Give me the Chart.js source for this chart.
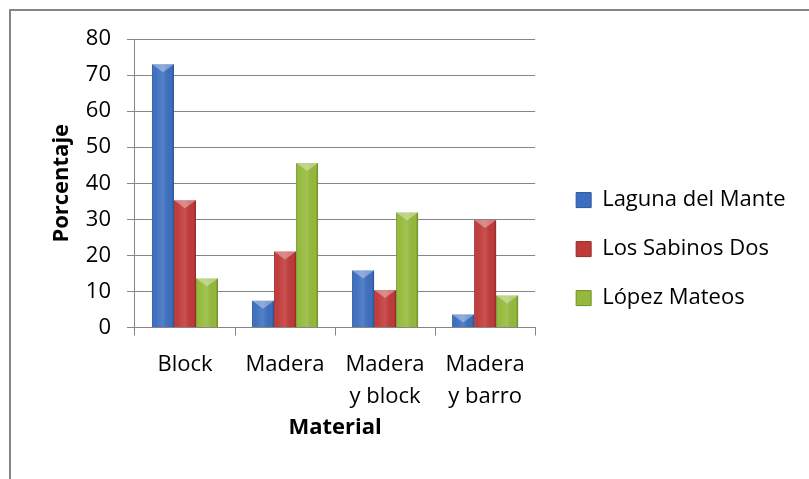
<!DOCTYPE html>
<html><head><meta charset="utf-8">
<script src="https://cdn.jsdelivr.net/npm/chart.js@4"></script>
<style>html,body{margin:0;padding:0;background:#fff}#wrap{width:809px;height:479px;position:relative}</style>
</head><body><div id="wrap"><canvas id="c" width="809" height="479"></canvas></div>
<script>
const categories = ['Block', 'Madera', ['Madera', 'y block'], ['Madera', 'y barro']];
const seriesNames = ['Laguna del Mante', 'Los Sabinos Dos', 'López Mateos'];
const lagunaDelMante = [73, 7.4, 15.8, 3.6];
const losSabinosDos = [35.3, 21.1, 10.4, 29.8];
const lopezMateos = [13.6, 45.6, 31.9, 8.9];
const yTicks = [0, 10, 20, 30, 40, 50, 60, 70, 80];
const seriesColors = ['#3D6FC0', '#C13A3A', '#95BA3B'];
const seriesEdges = ['#2B559B', '#962A2A', '#6F8F28'];
const yTitle = 'Porcentaje';
const xTitle = 'Material';

const FONT = "'Open Sans', sans-serif";

const decor = {
  id: 'decor',
  afterLayout(chart) {
    const lg = chart.legend;
    if (lg) { lg.left += 14; lg.right += 14; lg.top += 9; lg.bottom += 9; }
  },
  beforeDraw(chart) {
    const ctx = chart.ctx;
    ctx.save();
    ctx.strokeStyle = '#868686';
    ctx.lineWidth = 2;
    ctx.beginPath();
    ctx.moveTo(10, 479); ctx.lineTo(10, 10); ctx.lineTo(809, 10);
    ctx.stroke();
    ctx.restore();
  },
  afterDatasetsDraw(chart) {
    const ctx = chart.ctx;
    ctx.save();
    chart.data.datasets.forEach((ds, i) => {
      const meta = chart.getDatasetMeta(i);
      meta.data.forEach(bar => {
        const w = bar.width, l = bar.x - w / 2, r = bar.x + w / 2, t = bar.y, b = bar.base;
        const g = ctx.createLinearGradient(l, 0, r, 0);
        g.addColorStop(0, 'rgba(0,0,0,0.22)');
        g.addColorStop(0.12, 'rgba(255,255,255,0.0)');
        g.addColorStop(0.5, 'rgba(255,255,255,0.12)');
        g.addColorStop(0.88, 'rgba(0,0,0,0.0)');
        g.addColorStop(1, 'rgba(0,0,0,0.26)');
        ctx.fillStyle = g;
        ctx.fillRect(l, t, w, b - t);
        const th = Math.min(8, (b - t));
        ctx.fillStyle = 'rgba(255,255,255,0.35)';
        ctx.beginPath();
        ctx.moveTo(l, t); ctx.lineTo(r, t); ctx.lineTo(bar.x, t + th); ctx.closePath();
        ctx.fill();
      });
    });
    ctx.restore();
  }
};

new Chart(document.getElementById('c'), {
  type: 'bar',
  data: {
    labels: categories,
    datasets: [
      { label: seriesNames[0], data: lagunaDelMante, backgroundColor: seriesColors[0], borderColor: seriesEdges[0], borderWidth: 0 },
      { label: seriesNames[1], data: losSabinosDos, backgroundColor: seriesColors[1], borderColor: seriesEdges[1], borderWidth: 0 },
      { label: seriesNames[2], data: lopezMateos, backgroundColor: seriesColors[2], borderColor: seriesEdges[2], borderWidth: 0 }
    ]
  },
  options: {
    responsive: false,
    animation: false,
    devicePixelRatio: 1,
    categoryPercentage: 0.66,
    barPercentage: 1.0,
    layout: { padding: { left: 49, top: 39, right: 27.5, bottom: 37.8 } },
    plugins: {
      tooltip: { enabled: false },
      legend: {
        position: 'right',
        maxWidth: 320,
        labels: {
          boxWidth: 15, boxHeight: 15, padding: 27, color: '#000',
          font: { family: FONT, size: 22 },
          generateLabels(chart) {
            return chart.data.datasets.map((ds, i) => ({
              text: ds.label, fillStyle: ds.backgroundColor, strokeStyle: ds.borderColor,
              lineWidth: 1, hidden: false, datasetIndex: i
            }));
          }
        }
      }
    },
    scales: {
      x: {
        grid: { display: true, drawOnChartArea: false, drawTicks: true, tickLength: 8, color: '#868686', offset: true },
        border: { display: true, color: '#868686', width: 1 },
        ticks: { color: '#000', padding: 13, maxRotation: 0, autoSkip: false, font: { family: FONT, size: 22, lineHeight: 1.45 } },
        title: { display: true, text: xTitle, color: '#000', padding: { top: -10.5, bottom: 0 }, font: { family: FONT, size: 22, weight: 'bold', lineHeight: 1.2 } }
      },
      y: {
        min: 0, max: 80,
        afterBuildTicks(axis) { axis.ticks = yTicks.map(v => ({ value: v })); },
        grid: { color: '#868686', lineWidth: 1, tickLength: 8, drawTicks: true },
        border: { display: true, color: '#868686', width: 1 },
        ticks: { color: '#000', padding: 16, font: { family: FONT, size: 22 } },
        title: { display: true, text: yTitle, color: '#000', padding: { top: 0, bottom: -5.6 }, font: { family: FONT, size: 22, weight: 'bold', lineHeight: 1.2 } }
      }
    }
  },
  plugins: [decor]
});
</script>
</body></html>
